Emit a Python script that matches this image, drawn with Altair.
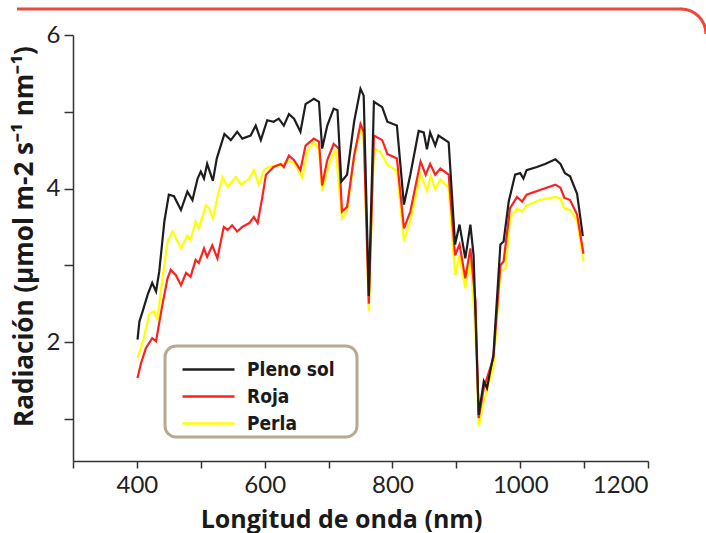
import altair as alt
import pandas as pd

# ---- data ----
series_names = ["Pleno sol", "Roja", "Perla"]
series_colors = ["#1e1e1e", "#ff2020", "#ffff00"]

wl_sol = [401, 404, 409, 417, 424, 430, 435, 443, 450, 458, 469, 479, 487, 495, 500, 505, 510, 519, 525, 534,
          537, 547, 557, 565, 578, 586, 594, 604, 614, 622, 630, 638, 646, 656, 664, 677, 685, 690, 698, 708,
          714, 720, 729, 740, 750, 755, 763, 771, 784, 792, 807, 818, 828, 841, 849, 854, 859, 867, 872, 888,
          898, 905, 914, 922, 927, 935, 943, 948, 958, 969, 974, 982, 992, 1000, 1005, 1010, 1026, 1039, 1055,
          1063, 1070, 1078, 1089, 1098]
val_sol = [2.03, 2.27, 2.40, 2.62, 2.77, 2.66, 2.92, 3.57, 3.92, 3.90, 3.72, 3.96, 3.85, 4.13, 4.22, 4.13, 4.32, 4.10, 4.39, 4.63,
           4.71, 4.63, 4.74, 4.65, 4.69, 4.82, 4.63, 4.89, 4.87, 4.91, 4.82, 4.97, 4.91, 4.74, 5.10, 5.17, 5.13, 4.52, 4.82, 5.04,
           5.02, 4.09, 4.18, 4.87, 5.30, 5.21, 2.60, 5.13, 5.06, 4.87, 4.82, 3.79, 4.18, 4.75, 4.73, 4.51, 4.73, 4.56, 4.69, 4.60,
           3.27, 3.53, 3.09, 3.53, 3.13, 1.05, 1.49, 1.40, 1.83, 3.27, 3.31, 3.83, 4.18, 4.20, 4.13, 4.24, 4.28, 4.32, 4.38,
           4.32, 4.20, 4.16, 3.93, 3.38]

wl_roja = [401, 406, 414, 424, 430, 440, 448, 453, 461, 469, 477, 484, 492, 497, 505, 510, 518, 526, 536, 542,
           549, 557, 565, 576, 583, 589, 596, 602, 614, 625, 630, 638, 646, 656, 664, 677, 685, 690, 698, 708,
           716, 721, 729, 740, 750, 755, 763, 771, 784, 792, 807, 818, 828, 844, 852, 859, 867, 875, 888, 898,
           905, 914, 922, 930, 935, 943, 958, 969, 974, 984, 995, 1003, 1010, 1031, 1055, 1063, 1069, 1078, 1089, 1099]
val_roja = [1.53, 1.71, 1.92, 2.05, 2.01, 2.49, 2.83, 2.94, 2.87, 2.74, 2.90, 2.85, 3.07, 3.03, 3.22, 3.11, 3.26, 3.09, 3.50, 3.46,
            3.52, 3.44, 3.50, 3.55, 3.63, 3.55, 3.87, 4.18, 4.28, 4.32, 4.28, 4.43, 4.37, 4.24, 4.56, 4.65, 4.61, 4.04, 4.37, 4.58,
            4.52, 3.70, 3.76, 4.43, 4.84, 4.74, 2.50, 4.69, 4.63, 4.45, 4.39, 3.48, 3.70, 4.35, 4.18, 4.32, 4.18, 4.26, 4.18, 3.13,
            3.27, 2.83, 3.22, 2.53, 1.01, 1.40, 1.79, 3.00, 3.05, 3.74, 3.89, 3.83, 3.92, 3.98, 4.05, 4.01, 3.88, 3.85, 3.66, 3.15]

wl_perla = [401, 411, 419, 427, 432, 440, 448, 456, 469, 479, 484, 492, 497, 508, 513, 519, 526, 534, 542, 555,
            563, 576, 583, 591, 599, 604, 614, 625, 635, 646, 659, 667, 677, 685, 690, 701, 711, 721, 729, 740,
            750, 755, 763, 771, 781, 792, 807, 818, 828, 844, 854, 860, 867, 875, 888, 898, 905, 914, 922, 930,
            935, 943, 958, 969, 977, 984, 995, 1003, 1010, 1031, 1055, 1063, 1069, 1078, 1089, 1099]
val_perla = [1.79, 2.05, 2.36, 2.40, 2.29, 2.83, 3.31, 3.44, 3.22, 3.39, 3.33, 3.57, 3.48, 3.78, 3.74, 3.61, 3.89, 4.15, 4.02, 4.15,
             4.05, 4.13, 4.24, 4.05, 4.24, 4.27, 4.30, 4.30, 4.36, 4.34, 4.14, 4.49, 4.60, 4.51, 3.97, 4.32, 4.51, 3.61, 3.70, 4.39,
             4.78, 4.65, 2.40, 4.52, 4.48, 4.31, 4.23, 3.32, 3.58, 4.19, 3.97, 4.16, 3.99, 4.12, 4.01, 2.87, 3.13, 2.70, 3.13, 2.10,
             0.90, 1.23, 1.66, 2.92, 2.96, 3.61, 3.74, 3.70, 3.78, 3.85, 3.89, 3.87, 3.74, 3.72, 3.58, 3.05]

x_ticks = [300, 400, 500, 600, 700, 800, 900, 1000, 1100, 1200]
y_ticks = [1, 2, 3, 4, 5, 6]

# drawing order: yellow first, black last
frames = []
for name, wl, val in [("Perla", wl_perla, val_perla), ("Roja", wl_roja, val_roja), ("Pleno sol", wl_sol, val_sol)]:
    frames.append(pd.DataFrame({"wl": wl, "val": val, "serie": name}))
df = pd.concat(frames, ignore_index=True)

W, H = 575, 426

lines = alt.Chart(df).mark_line(strokeWidth=2.2).encode(
    x=alt.X("wl:Q", scale=alt.Scale(domain=[300, 1200], nice=False, zero=False),
            axis=alt.Axis(values=x_ticks, title="Longitud de onda (nm)", format="d",
                          labelExpr="(datum.value % 200 == 0 && datum.value >= 400) ? datum.label : ''",
                          tickSize=7, labelPadding=5, titleX=268, titleY=66, titleBaseline="alphabetic",
                          titleFontSize=25)),
    y=alt.Y("val:Q", scale=alt.Scale(domain=[0.45, 6], nice=False, zero=False),
            axis=alt.Axis(values=y_ticks, title="Radiación (µmol m-2 s⁻¹ nm⁻¹)", format="d",
                          labelExpr="datum.value % 2 == 0 ? datum.label : ''",
                          tickSize=9, labelPadding=4, titleX=-41, titleY=201, titleBaseline="alphabetic",
                          titleFontSize=26)),
    color=alt.Color("serie:N", scale=alt.Scale(domain=series_names, range=series_colors),
                    legend=alt.Legend(orient="none", legendX=121, legendY=320, title=None,
                                      symbolType="M-2,0H2", symbolSize=676, symbolStrokeWidth=2.5,
                                      labelFont="DejaVu Sans Condensed, Roboto Condensed, Roboto, sans-serif",
                                      labelFontWeight="bold",
                                      labelFontSize=19, labelColor="#1a1a1a", labelOffset=24,
                                      rowPadding=2, padding=0)),
    detail="serie:N",
)

one = alt.Data(values=[{"k": 1}])

legend_box = alt.Chart(one).mark_rect(fill="white", stroke="#b8aa8e", strokeWidth=3, cornerRadius=11).encode(
    x=alt.value(92), x2=alt.value(284), y=alt.value(311), y2=alt.value(402)
)

top_line = alt.Chart(one).mark_rule(color="#e94a3c", strokeWidth=3).encode(
    x=alt.value(-56), x2=alt.value(609), y=alt.value(-26)
)
top_arc = alt.Chart(one).mark_arc(color="#e94a3c", radius=26.5, radius2=23.5, theta=0, theta2=1.5708).encode(
    x=alt.value(608), y=alt.value(-1)
)

chart = alt.layer(top_line, top_arc, legend_box, lines).properties(
    width=W, height=H,
    autosize=alt.AutoSizeParams(type="none"),
    padding={"left": 73, "top": 35, "right": 58, "bottom": 72},
).configure_view(stroke=None).configure_axis(
    grid=False, domainColor="#333333", domainWidth=1.5, tickColor="#333333", tickWidth=1.5,
    labelColor="#222222", labelFont="Lato", labelFontSize=24, labelFontWeight="normal",
    titleFont="Open Sans", titleFontWeight="bold", titleColor="#1a1a1a",
)

chart.save("out.html", embed_options={"renderer": "svg", "actions": False})
